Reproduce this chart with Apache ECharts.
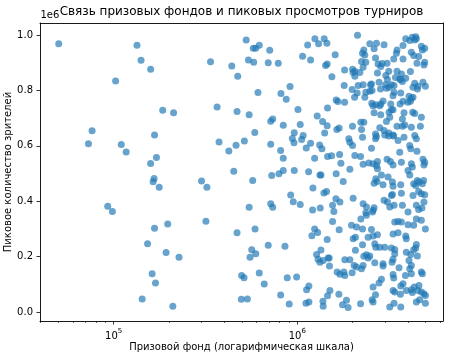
<!DOCTYPE html>
<html>
<head>
<meta charset="utf-8">
<script src="https://cdn.jsdelivr.net/npm/echarts@6/dist/echarts.min.js"></script>
<style>html,body{margin:0;padding:0;background:#fff}#c{width:450px;height:359px}</style>
</head>
<body>
<div id="c"></div>
<script>
// [prize fund USD, peak viewers]
const lowPrize = [
[50200,968000],[134000,963000],[141000,909000],[159000,876000],[102500,834000],[337000,903000],[440000,888000],[474000,851000],
[185000,728000],[212000,719000],[366000,740000],[470000,724000],[76300,654000],[72900,607000],[110000,605000],[117000,578000],
[167000,639000],[171000,558000],[159000,536000],[375000,614000],[424000,581000],[464000,602000],[166000,482000],[164000,470000],
[177000,450000],[301000,473000],[322000,450000],[451000,508000],[92800,382000],[98400,363000],[167000,302000],[197000,318000],
[318000,328000],[470000,286000],[153000,246000],[193000,215000],[227000,198000],[162000,138000],[169000,105000],[143000,47000],
[210000,21000]
];
const midPrizeTop = [
[527000,982000],[576000,952000],[594000,952000],[621000,963000],[708000,945000],[542000,910000],[579000,902000],[695000,900000],
[788000,898000],[1248000,986000],[1402000,986000],[1307000,968000],[1450000,970000],[1139000,964000],[1069000,923000],[1182000,910000],
[1609000,929000],[1427000,890000],[1455000,895000],[1544000,849000],[913000,814000],[815000,789000],[871000,768000],[611000,792000],
[1009000,731000],[547000,712000],[1462000,736000],[1629000,765000],[1664000,760000],[1284000,708000],[735000,697000],[717000,689000],
[1374000,688000]
];
const highPrizeTop = [
[2129000,999000],[2484000,968000],[2700000,970000],[2970000,965000],[2304000,946000],[2333000,928000],[2267000,934000],[2621000,950000],
[2668000,917000],[2362000,902000],[2239000,904000],[1811000,874000],[2000000,876000],[2059000,869000],[2015000,865000],[2284000,884000],
[2192000,865000],[2059000,851000],[2755000,895000],[2897000,897000],[2850000,886000],[2734000,863000],[3084000,898000],[3353000,913000],
[3495000,946000],[3767000,962000],[3896000,986000],[4236000,992000],[4416000,994000],[4361000,982000],[4453000,986000],[4097000,980000],
[4741000,959000],[4943000,952000],[4801000,946000],[4183000,938000],[4306000,926000],[4583000,922000],[3767000,913000],[3467000,934000],
[4487000,898000],[4943000,902000],[4898000,892000],[4134000,868000],[3896000,844000],[3495000,869000],[3691000,859000],[3150000,869000],
[3035000,854000],[3099000,839000],[3257000,820000],[3024000,820000],[3426000,847000],[3615000,841000],[3738000,832000],[3647000,839000],
[2789000,829000],[2840000,805000],[3060000,808000],[3162000,811000],[3366000,818000],[3366000,793000],[2506000,820000],[2536000,823000],
[1801000,818000],[1990000,803000],[2146000,818000],[2284000,820000],[2119000,791000],[2362000,793000],[2556000,800000],[2484000,797000],
[4361000,826000],[4544000,815000],[4269000,811000],[4509000,805000],[4838000,829000],[4987000,815000],[3661000,791000],[3324000,781000],
[4060000,779000],[4183000,772000],[4269000,775000],[2933000,762000],[2850000,751000],[1811000,757000],[2052000,775000],[2333000,775000],
[2546000,754000],[2677000,748000],[2815000,745000],[2588000,745000],[3629000,751000],[3767000,761000],[4010000,757000],[4134000,761000],
[3230000,751000],[3324000,730000],[3162000,721000],[3257000,730000],[4253000,721000],[4361000,717000],[2621000,719000],[2850000,712000],
[3738000,697000],[3814000,719000],[4741000,703000],[2220000,685000],[2304000,685000],[3190000,703000],[3060000,688000]
];
const midPrizeMiddle = [
[515000,617000],[587000,648000],[717000,606000],[812000,583000],[839000,555000],[839000,674000],[1038000,677000],[963000,647000],
[940000,626000],[960000,611000],[1056000,623000],[1077000,637000],[1182000,609000],[1119000,592000],[1324000,603000],[1362000,589000],
[1410000,646000],[1455000,672000],[1643000,659000],[1691000,664000],[1243000,555000],[1462000,561000],[1538000,564000],[1701000,569000],
[1729000,537000],[572000,475000],[726000,493000],[795000,499000],[839000,511000],[963000,511000],[1153000,506000],[1329000,495000],
[1346000,495000],[1629000,499000],[1217000,448000],[921000,422000],[951000,398000],[1038000,388000],[1397000,430000],[1444000,435000],
[1623000,409000],[1707000,397000],[717000,391000],[735000,378000],[547000,378000],[1212000,368000],[1334000,375000],[1557000,385000],
[1583000,363000],[1557000,327000]
];
const highPrizeMiddle = [
[2000000,671000],[2239000,659000],[1909000,625000],[1934000,613000],[2000000,601000],[2267000,631000],[2536000,591000],[2668000,643000],
[2700000,634000],[2668000,625000],[2815000,665000],[2970000,655000],[2997000,639000],[3150000,646000],[3324000,639000],[3150000,635000],
[3353000,635000],[3495000,671000],[3738000,671000],[3848000,675000],[4183000,667000],[4685000,671000],[3814000,631000],[3539000,619000],
[4361000,637000],[4453000,625000],[4097000,601000],[4149000,589000],[4487000,580000],[3615000,577000],[4838000,551000],[4943000,541000],
[4898000,531000],[2059000,565000],[2212000,561000],[2284000,533000],[2452000,538000],[2588000,535000],[2734000,543000],[2700000,529000],
[2734000,517000],[3084000,551000],[3218000,543000],[3324000,531000],[3691000,541000],[4183000,535000],[4236000,523000],[4010000,511000],
[4097000,495000],[1934000,515000],[3123000,487000],[2874000,495000],[2621000,465000],[2721000,471000],[2677000,481000],[1779000,471000],
[2933000,459000],[3298000,469000],[3324000,454000],[3661000,459000],[4306000,463000],[4416000,457000],[4801000,463000],[4880000,475000],
[4509000,475000],[4601000,469000],[3298000,424000],[3257000,421000],[3691000,429000],[4583000,435000],[4741000,427000],[4943000,423000],
[4269000,421000],[2015000,411000],[2284000,391000],[2382000,379000],[2588000,367000],[2621000,376000],[2569000,361000],[2970000,403000],
[3099000,397000],[3190000,379000],[3366000,385000],[3738000,385000],[4010000,361000],[4453000,385000],[4583000,370000],[4778000,375000],
[4898000,397000],[2220000,336000],[2382000,349000],[2362000,358000],[3396000,325000],[3539000,327000],[3691000,325000],[4453000,336000],
[4741000,331000]
];
const midPrizeBottom = [
[589000,300000],[565000,225000],[594000,210000],[553000,198000],[695000,241000],[857000,237000],[498000,132000],[513000,124000],
[621000,141000],[661000,101000],[882000,124000],[992000,126000],[496000,46000],[535000,47000],[812000,61000],[904000,29000],
[1157000,94000],[1124000,80000],[1115000,32000],[1157000,36000],[1380000,39000],[1384000,21000],[1462000,59000],[1506000,78000],
[1685000,64000],[1243000,300000],[1291000,287000],[1201000,275000],[1455000,262000],[1346000,224000],[1274000,208000],[1299000,190000],
[1329000,180000],[1384000,186000],[1473000,195000],[1492000,195000],[1498000,166000],[1650000,144000],[1707000,136000],[1691000,297000]
];
const highPrizeBottom = [
[1975000,313000],[2103000,307000],[2267000,300000],[2536000,298000],[4010000,315000],[4306000,313000],[3324000,282000],[3539000,286000],
[3896000,274000],[3925000,264000],[4987000,300000],[2431000,270000],[2588000,274000],[2734000,279000],[2015000,264000],[2074000,270000],
[2267000,243000],[2644000,246000],[2677000,234000],[2815000,234000],[2997000,234000],[3257000,231000],[3396000,226000],[3396000,210000],
[4453000,244000],[4416000,231000],[4306000,225000],[3925000,216000],[4149000,208000],[2074000,223000],[2304000,201000],[2382000,207000],
[2484000,202000],[2431000,195000],[1934000,189000],[1816000,189000],[2041000,168000],[2103000,162000],[2239000,156000],[2284000,168000],
[2644000,178000],[2933000,174000],[2933000,166000],[3284000,180000],[3324000,190000],[3584000,160000],[4060000,186000],[4183000,168000],
[4097000,156000],[4509000,202000],[1794000,144000],[1816000,132000],[1990000,142000],[3324000,135000],[3353000,123000],[3882000,132000],
[4183000,138000],[4741000,144000],[4801000,138000],[2874000,118000],[2789000,105000],[2588000,90000],[3324000,78000],[3396000,72000],
[3661000,94000],[3767000,102000],[3925000,78000],[4183000,80000],[4340000,90000],[4236000,70000],[4601000,96000],[4544000,78000],
[4741000,72000],[4898000,66000],[4990000,60000],[3647000,64000],[2668000,62000],[2556000,44000],[2588000,36000],[2212000,30000],
[1854000,42000],[1765000,26000],[1892000,16000],[3190000,18000],[3366000,32000],[3661000,18000],[4453000,36000],[4643000,44000],
[4987000,32000]
];

const yTickValues = [0, 200000, 400000, 600000, 800000, 1000000];
const xMajorTicks = [100000, 1000000];
const xMinorTicks = [40000,50000,60000,70000,80000,90000,200000,300000,400000,500000,600000,700000,800000,900000,2000000,3000000,4000000,5000000,6000000];

const titleText = 'Связь призовых фондов и пиковых просмотров турниров';
const xName = 'Призовой фонд (логарифмическая шкала)';
const yName = 'Пиковое количество зрителей';
const offsetText = '1e6';

const allPoints = [].concat(lowPrize, midPrizeTop, highPrizeTop, midPrizeMiddle, highPrizeMiddle, midPrizeBottom, highPrizeBottom);

const FONT = 'DejaVu Sans';
const X_MIN = 39700, X_MAX = 6220000, Y_MIN = -32500, Y_MAX = 1043300;
const frameLine = {show: true, onZero: false, lineStyle: {color: '#000', width: 0.9}};
const chart = echarts.init(document.getElementById('c'), null, {renderer: 'canvas'});
chart.setOption({
  animation: false,
  backgroundColor: '#fff',
  graphic: [
    {type: 'text', x: 241.5, y: 12, silent: true,
     style: {text: titleText, fontFamily: FONT, fontSize: 12, fill: '#000', align: 'center', verticalAlign: 'middle'}},
    {type: 'text', x: 40.5, y: 15.5, silent: true,
     style: {text: offsetText, fontFamily: FONT, fontSize: 10, fill: '#000', align: 'left', verticalAlign: 'middle'}}
  ],
  grid: {left: 40, right: 7, top: 23, bottom: 38, containLabel: false, outerBoundsMode: 'none', show: false},
  xAxis: [
    {
      type: 'log', logBase: 10, min: X_MIN, max: X_MAX, position: 'bottom',
      name: xName, nameLocation: 'middle', nameGap: 21, nameMoveOverlap: false,
      nameTextStyle: {fontFamily: FONT, fontSize: 10, color: '#000'},
      axisLine: frameLine,
      axisTick: {show: true, customValues: xMajorTicks, length: 3.5, lineStyle: {color: '#000', width: 0.8}},
      axisLabel: {
        customValues: xMajorTicks, margin: 7, color: '#000', fontFamily: FONT, fontSize: 10,
        formatter: function (v) { return '{b|10}{s|' + Math.round(Math.log10(v)) + '}'; },
        rich: {b: {fontFamily: FONT, fontSize: 10, color: '#000', verticalAlign: 'bottom'}, s: {fontFamily: FONT, fontSize: 7, color: '#000', verticalAlign: 'top', padding: [0,0,6,0]}}
      },
      splitLine: {show: false}, minorTick: {show: false}, minorSplitLine: {show: false}
    },
    {
      type: 'log', logBase: 10, min: X_MIN, max: X_MAX, gridIndex: 0, position: 'bottom',
      axisLine: {show: false, onZero: false},
      axisTick: {show: true, customValues: xMinorTicks, length: 2, lineStyle: {color: '#000', width: 0.6}},
      axisLabel: {show: false}, splitLine: {show: false}
    },
    {
      type: 'log', logBase: 10, min: X_MIN, max: X_MAX, gridIndex: 0, position: 'top',
      axisLine: frameLine, axisTick: {show: false}, axisLabel: {show: false}, splitLine: {show: false}
    }
  ],
  yAxis: [
    {
      type: 'value', min: Y_MIN, max: Y_MAX, position: 'left',
      name: yName, nameLocation: 'middle', nameGap: 27, nameMoveOverlap: false,
      nameTextStyle: {fontFamily: FONT, fontSize: 10, color: '#000'},
      axisLine: frameLine,
      axisTick: {show: true, customValues: yTickValues, length: 3.5, lineStyle: {color: '#000', width: 0.8}},
      axisLabel: {customValues: yTickValues, margin: 7, color: '#000', fontFamily: FONT, fontSize: 10,
        formatter: function (v) { return (v / 1e6).toFixed(1); }},
      splitLine: {show: false}
    },
    {
      type: 'value', min: Y_MIN, max: Y_MAX, position: 'right',
      axisLine: frameLine, axisTick: {show: false}, axisLabel: {show: false}, splitLine: {show: false}
    }
  ],
  series: [{
    type: 'scatter', xAxisIndex: 0, yAxisIndex: 0,
    data: allPoints, symbolSize: 7,
    itemStyle: {color: '#1f77b4', opacity: 0.68}
  }]
});
</script>
</body>
</html>
